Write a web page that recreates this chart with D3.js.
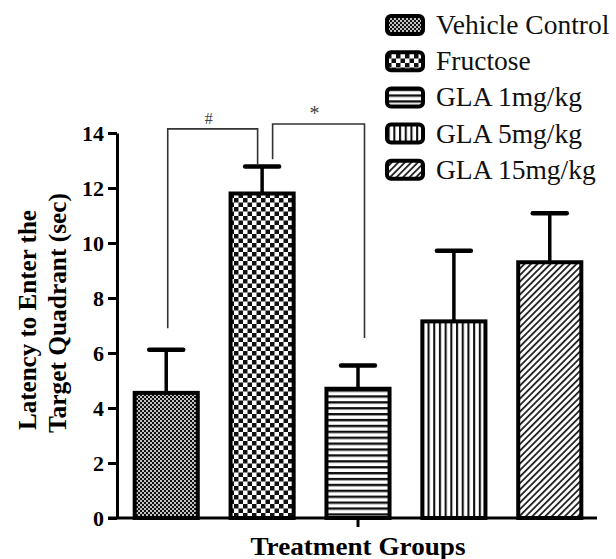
<!DOCTYPE html>
<html><head><meta charset="utf-8">
<script src="https://cdn.jsdelivr.net/npm/d3@7"></script>
<style>body{margin:0;background:#fff}svg{display:block}</style>
</head><body>
<svg id="c" width="616" height="559"></svg>
<script>
const groups = ["Vehicle Control","Fructose","GLA 1mg/kg","GLA 5mg/kg","GLA 15mg/kg"];
const means  = [4.55, 11.8, 4.7, 7.15, 9.3];
const sems   = [1.57, 0.98, 0.85, 2.57, 1.78];
const yTicks = [0,2,4,6,8,10,12,14];
const brackets = [
  {a:"Vehicle Control", b:"Fructose", top:14.15, aEnd:6.9, bEnd:12.85, label:"#", da:1.5, db:-4.5},
  {a:"Fructose", b:"GLA 1mg/kg", top:14.33, aEnd:13.05, bEnd:6.55, label:"*", da:10.5, db:6.5}
];
const yTitle = ["Latency to Enter the","Target Quadrant (sec)"];
const xTitle = "Treatment Groups";

const svg = d3.select("#c");
const serif = "'Liberation Serif','Times New Roman',serif";
const x = d3.scaleBand().domain(groups).range([118,598]).paddingInner(0.342).paddingOuter(0.174);
const y = d3.scaleLinear().domain([0,14]).range([518,133]);

// patterns
const defs = svg.append("defs");
const pids = ["pVeh","pFru","pG1","pG5","pG15"];
let p = defs.append("pattern").attr("id","pVeh").attr("patternUnits","userSpaceOnUse").attr("width",4).attr("height",4);
p.append("rect").attr("width",4).attr("height",4).attr("fill","#111");
p.append("circle").attr("cx",1).attr("cy",1).attr("r",1.0).attr("fill","#fff");
p.append("circle").attr("cx",3).attr("cy",3).attr("r",1.0).attr("fill","#fff");
p = defs.append("pattern").attr("id","pFru").attr("patternUnits","userSpaceOnUse").attr("width",9).attr("height",9);
p.append("rect").attr("width",9).attr("height",9).attr("fill","#fff");
p.append("rect").attr("width",4.5).attr("height",4.5).attr("fill","#111");
p.append("rect").attr("x",4.5).attr("y",4.5).attr("width",4.5).attr("height",4.5).attr("fill","#111");
p = defs.append("pattern").attr("id","pG1").attr("patternUnits","userSpaceOnUse").attr("width",6).attr("height",5.9);
p.append("rect").attr("width",6).attr("height",5.9).attr("fill","#fff");
p.append("rect").attr("y",0).attr("width",6).attr("height",2.4).attr("fill","#111");
p = defs.append("pattern").attr("id","pG5").attr("patternUnits","userSpaceOnUse").attr("width",5.7).attr("height",6);
p.append("rect").attr("width",5.7).attr("height",6).attr("fill","#fff");
p.append("rect").attr("x",0).attr("width",2.1).attr("height",6).attr("fill","#111");
p = defs.append("pattern").attr("id","pG15").attr("patternUnits","userSpaceOnUse").attr("width",4.6).attr("height",4.6).attr("patternTransform","rotate(45)");
p.append("rect").attr("width",4.6).attr("height",4.6).attr("fill","#fff");
p.append("rect").attr("x",0).attr("width",1.8).attr("height",4.6).attr("fill","#222");

// bars
const data = groups.map((g,i)=>({g,m:means[i],s:sems[i],pid:pids[i]}));
svg.append("g").selectAll("rect").data(data).join("rect")
  .attr("x",d=>x(d.g)).attr("width",x.bandwidth())
  .attr("y",d=>y(d.m)).attr("height",d=>y(0)-y(d.m))
  .attr("fill",d=>`url(#${d.pid})`).attr("stroke","#000").attr("stroke-width",4);

// error bars
const eg = svg.append("g").attr("stroke","#000").attr("stroke-linecap","round");
data.forEach(d=>{
  const cx = x(d.g)+x.bandwidth()/2;
  eg.append("line").attr("x1",cx).attr("x2",cx).attr("y1",y(d.m)).attr("y2",y(d.m+d.s)).attr("stroke-width",3.5);
  eg.append("line").attr("x1",cx-17).attr("x2",cx+17).attr("y1",y(d.m+d.s)).attr("y2",y(d.m+d.s)).attr("stroke-width",4.5);
});

// axes
const yAxis = svg.append("g").attr("transform",`translate(117,0)`).call(d3.axisLeft(y).tickValues(yTicks).tickSize(9).tickSizeOuter(0).tickPadding(4));
yAxis.select(".domain").attr("stroke-width",3);
yAxis.selectAll(".tick line").attr("stroke-width",3);
yAxis.selectAll("text").attr("font-family",serif).attr("font-weight","bold").attr("font-size",22).attr("fill","#000");
svg.append("line").attr("x1",108).attr("x2",597).attr("y1",y(0)).attr("y2",y(0)).attr("stroke","#000").attr("stroke-width",3);
const mid = groups[2];
svg.append("line").attr("x1",x(mid)+x.bandwidth()/2).attr("x2",x(mid)+x.bandwidth()/2).attr("y1",y(0)).attr("y2",y(0)+9).attr("stroke","#000").attr("stroke-width",3);

// brackets
const bg = svg.append("g");
brackets.forEach(b=>{
  const xa = x(b.a)+x.bandwidth()/2+b.da, xb = x(b.b)+x.bandwidth()/2+b.db;
  bg.append("path").attr("d",`M${xa},${y(b.aEnd)}V${y(b.top)}H${xb}V${y(b.bEnd)}`)
    .attr("fill","none").attr("stroke","#333").attr("stroke-width",1.6);
  bg.append("text").attr("x",(xa+xb)/2-4).attr("y",y(b.top)-(b.label==="*"?4:5))
    .attr("text-anchor","middle").attr("font-family",serif).attr("font-size",b.label==="*"?20:16)
    .attr("fill","#444").text(b.label);
});

// titles
svg.append("text").attr("x",358).attr("y",555).attr("text-anchor","middle")
  .attr("font-family",serif).attr("font-weight","bold").attr("font-size",25)
  .attr("textLength",215).attr("lengthAdjust","spacingAndGlyphs").text(xTitle);
const yt = svg.append("g");
yTitle.forEach((t,i)=>{
  const cx = i===0?36:66, cy = i===0?320:313;
  yt.append("text").attr("transform",`translate(${cx},${cy}) rotate(-90)`).attr("text-anchor","middle")
    .attr("font-family",serif).attr("font-weight","bold").attr("font-size",25)
    .attr("textLength",i===0?220:240).attr("lengthAdjust","spacingAndGlyphs").text(t);
});

// legend
const lg = svg.append("g");
data.forEach((d,i)=>{
  const top = 14 + i*36.2;
  lg.append("rect").attr("x",387).attr("y",top+2).attr("width",36).attr("height",18).attr("rx",4)
    .attr("fill",`url(#${d.pid})`).attr("stroke","#000").attr("stroke-width",4);
  lg.append("text").attr("x",436).attr("y",top+20).attr("font-family",serif).attr("font-size",27.5)
    .attr("fill","#111").text(d.g);
});
</script>
</body></html>
